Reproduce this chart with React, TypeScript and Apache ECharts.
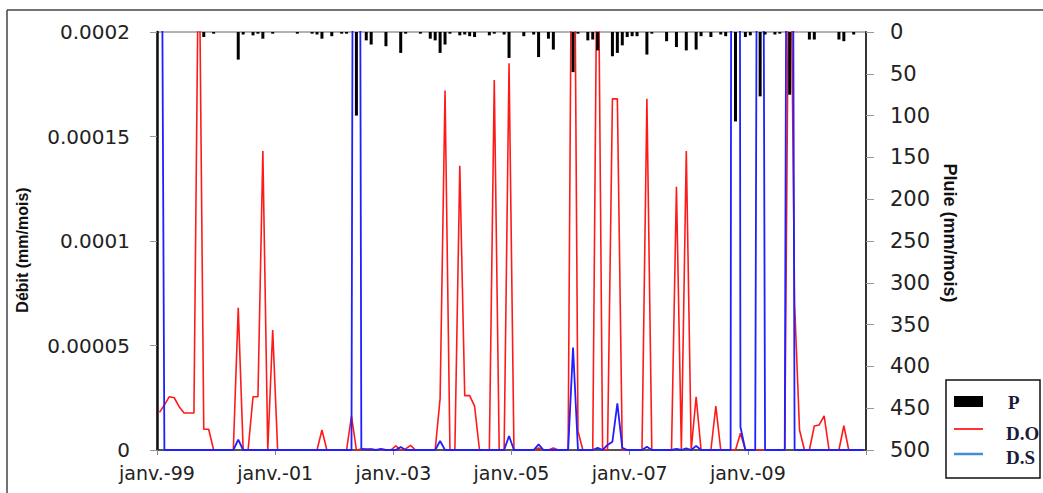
import React, { useEffect, useRef } from "react";
import * as echarts from "echarts";

// Monthly series, janv. 1999 .. déc. 2010 (144 months), one row per year
const monthCount = 144;
const xTickLabels = ["janv.-99", "janv.-01", "janv.-03", "janv.-05", "janv.-07", "janv.-09", ""];
const leftTickLabels = ["0", "0.00005", "0.0001", "0.00015", "0.0002"];

// D.O : observed discharge (mm/mois)
const debitObserve = [
  1.8e-5, 2.15e-5, 2.55e-5, 2.5e-5, 2.07e-5, 1.77e-5, 1.77e-5, 1.77e-5, 2.6e-4, 0.99e-5, 0.99e-5, 0,
  0, 0, 0, 0, 6.8e-5, 0, 0, 2.55e-5, 2.55e-5, 1.43e-4, 0, 5.74e-5,
  0, 0, 0, 0, 0, 0, 0, 0, 0, 0.96e-5, 0, 0,
  0, 0, 0, 1.62e-5, 0, 0.05e-5, 0.03e-5, 0.05e-5, 0, 0, 0, 0,
  0.2e-5, 0, 0.05e-5, 0.22e-5, 0, 0, 0, 0, 0, 2.47e-5, 1.72e-4, 0,
  0, 1.36e-4, 2.6e-5, 2.6e-5, 2.1e-5, 0, 0, 0, 1.77e-4, 0, 0, 1.85e-4,
  0, 0, 0, 0, 0, 0.1e-5, 0, 0, 0.1e-5, 0, 0, 0,
  3.6e-4, 0.9e-5, 0, 0, 0, 2.8e-4, 0, 0, 1.68e-4, 1.68e-4, 0, 0,
  0, 0, 0, 1.68e-4, 0, 0, 0, 0, 0, 1.26e-4, 0, 1.43e-4,
  0, 2.55e-5, 0, 0, 0, 2.1e-5, 0, 0, 0, 0, 0.8e-5, 0,
  0, 0, 0, 0, 0, 0, 0, 0, 3.0e-4, 7e-5, 0.96e-5, 0,
  0, 1.15e-5, 1.2e-5, 1.63e-5, 0, 0, 0, 1.16e-5, 0, 0, 0, 0,
];

// D.S : simulated discharge (mm/mois)
const debitSimule = [
  5e-4, 0, 0, 0, 0, 0, 0, 0, 0, 0, 0, 0,
  0, 0, 0, 0, 0.5e-5, 0, 0, 0, 0, 0, 0, 0,
  0, 0, 0, 0, 0, 0, 0, 0, 0, 0, 0, 0,
  0, 0, 0, 0, 1e-3, 0.05e-5, 0.03e-5, 0.03e-5, 0, 0.05e-5, 0, 0,
  0, 0.14e-5, 0, 0, 0, 0, 0, 0, 0, 0.43e-5, 0, 0,
  0, 0, 0, 0, 0, 0, 0, 0, 0, 0, 0, 0.67e-5,
  0, 0, 0, 0, 0, 0.27e-5, 0, 0, 0, 0, 0, 0,
  4.9e-5, 0, 0, 0, 0, 0.1e-5, 0, 0.24e-5, 0.4e-5, 2.23e-5, 0.1e-5, 0,
  0, 0, 0, 0.15e-5, 0, 0, 0, 0, 0, 0.05e-5, 0, 0.08e-5,
  0, 0.2e-5, 0, 0, 0, 0, 0, 0, 0, 2e-3, 1.1e-5, 0,
  0, 0, 7.7e-4, 0, 0, 0, 0, 0, 7.7e-4, 0, 0, 0,
  0, 0, 0, 0, 0, 0, 0, 0, 0, 0, 0, 0,
];

// P : rainfall (mm/mois)
const pluie = [
  0, 0, 0, 0, 0, 0, 0, 0, 0, 6, 0, 2,
  0, 0, 0, 0, 33, 3, 0, 4, 2, 8, 0, 2,
  0, 0, 0, 0, 2, 0, 0, 2, 3, 8, 0, 5,
  0, 2, 2, 0, 100, 0, 10, 15, 0, 0, 17, 0,
  0, 25, 2, 0, 0, 2, 0, 8, 10, 25, 15, 2,
  0, 4, 3, 5, 6, 0, 0, 4, 2, 0, 3, 31,
  0, 0, 5, 0, 3, 30, 0, 8, 21, 0, 0, 0,
  48, 2, 0, 10, 9, 22, 0, 0, 29, 25, 16, 6,
  5, 5, 0, 27, 2, 0, 0, 11, 0, 18, 0, 22,
  0, 21, 5, 0, 6, 0, 3, 5, 0, 107, 0, 6,
  4, 0, 77, 3, 0, 3, 2, 0, 75, 0, 0, 0,
  9, 9, 0, 0, 0, 0, 9, 11, 0, 3, 0, 0,
];

// monthly values plotted at mid-month
const toPoints = (arr: number[]) => arr.map((v, i) => [i + 0.5, v]);

const labelFont = "DejaVu Sans";

export default function App() {
  const ref = useRef<HTMLDivElement>(null);
  useEffect(() => {
    if (!ref.current) return;
    const chart = echarts.init(ref.current, null, { renderer: "svg" });
    chart.setOption({
      animation: false,
      backgroundColor: "#ffffff",
      grid: {
        left: 157,
        right: 177,
        top: 32,
        bottom: 43,
        show: true,
        borderColor: "#666",
        borderWidth: 1,
      },
      xAxis: {
        type: "value",
        min: 0,
        max: monthCount,
        interval: 24,
        axisLine: { show: true, lineStyle: { color: "#333", width: 1.5 } },
        axisTick: { show: true, length: 5, lineStyle: { color: "#888" } },
        splitLine: { show: false },
        axisLabel: {
          formatter: (v: number) => xTickLabels[Math.round(v / 24)] ?? "",
          fontSize: 19,
          lineHeight: 18,
          fontFamily: labelFont,
          color: "#222",
          margin: 14,
        },
      },
      yAxis: [
        {
          type: "value",
          position: "left",
          min: 0,
          max: 0.0002,
          interval: 0.00005,
          axisLine: { show: true, lineStyle: { color: "#111", width: 2.5 } },
          axisTick: { show: true, length: 7, lineStyle: { color: "#999" } },
          splitLine: { show: false },
          axisLabel: {
            formatter: (v: number) => leftTickLabels[Math.round(v / 0.00005)] ?? "",
            fontSize: 20,
            lineHeight: 15,
            fontFamily: labelFont,
            color: "#222",
            margin: 27,
          },
        },
        {
          type: "value",
          position: "right",
          inverse: true,
          min: 0,
          max: 500,
          interval: 50,
          axisLine: { show: true, lineStyle: { color: "#333", width: 2 } },
          axisTick: { show: true, length: 8, lineStyle: { color: "#999" } },
          splitLine: { show: false },
          axisLabel: {
            fontSize: 21,
            fontFamily: labelFont,
            color: "#222",
            margin: 24,
          },
        },
      ],
      series: [
        {
          name: "D.O",
          type: "line",
          yAxisIndex: 0,
          data: toPoints(debitObserve),
          symbol: "none",
          clip: true,
          lineStyle: { color: "#ff1a1a", width: 1.6 },
          itemStyle: { color: "#ff1a1a" },
          z: 3,
        },
        {
          name: "D.S",
          type: "line",
          yAxisIndex: 0,
          data: toPoints(debitSimule),
          symbol: "none",
          clip: true,
          lineStyle: { color: "#1f1fff", width: 1.8 },
          itemStyle: { color: "#1f1fff" },
          z: 4,
        },
        {
          name: "P",
          type: "bar",
          yAxisIndex: 1,
          data: toPoints(pluie),
          barWidth: 3,
          itemStyle: { color: "#000" },
          z: 5,
        },
      ],
      graphic: [
        { type: "line", shape: { x1: 7, y1: 10, x2: 7, y2: 493 }, style: { stroke: "#444", lineWidth: 1.5 } },
        { type: "line", shape: { x1: 7, y1: 10, x2: 1043, y2: 10 }, style: { stroke: "#444", lineWidth: 1.5 } },
        {
          type: "text",
          x: 22,
          y: 250,
          rotation: Math.PI / 2,
          style: {
            text: "Débit (mm/mois)",
            font: 'bold 16px "Liberation Sans Narrow", "Liberation Sans", Arial, sans-serif',
            fill: "#111",
            align: "center",
            verticalAlign: "middle",
          },
        },
        {
          type: "text",
          x: 950,
          y: 233,
          rotation: -Math.PI / 2,
          style: {
            text: "Pluie (mm/mois)",
            font: 'bold 18px "Liberation Sans", Arial, sans-serif',
            fill: "#111",
            align: "center",
            verticalAlign: "middle",
          },
        },
        {
          type: "rect",
          shape: { x: 946, y: 380, width: 94, height: 98 },
          style: { fill: "#fff", stroke: "#111", lineWidth: 1.5 },
        },
        { type: "rect", shape: { x: 954, y: 396, width: 29, height: 11 }, style: { fill: "#000" } },
        { type: "line", shape: { x1: 954, y1: 429, x2: 983, y2: 429 }, style: { stroke: "#ff3333", lineWidth: 2 } },
        { type: "line", shape: { x1: 954, y1: 454, x2: 983, y2: 454 }, style: { stroke: "#3d8fd6", lineWidth: 2.5 } },
        {
          type: "text", x: 1008, y: 402,
          style: { text: "P", font: 'bold 19px "Liberation Serif", serif', fill: "#1b1b3a", align: "left", verticalAlign: "middle" },
        },
        {
          type: "text", x: 1006, y: 433,
          style: { text: "D.O", font: 'bold 19px "Liberation Serif", serif', fill: "#1b1b3a", align: "left", verticalAlign: "middle" },
        },
        {
          type: "text", x: 1006, y: 457,
          style: { text: "D.S", font: 'bold 19px "Liberation Serif", serif', fill: "#1b1b3a", align: "left", verticalAlign: "middle" },
        },
      ],
    });
    return () => chart.dispose();
  }, []);
  return (
    <div
      ref={ref}
      style={{ position: "absolute", left: 0, top: 0, width: 1043, height: 493, background: "#fff" }}
    />
  );
}
